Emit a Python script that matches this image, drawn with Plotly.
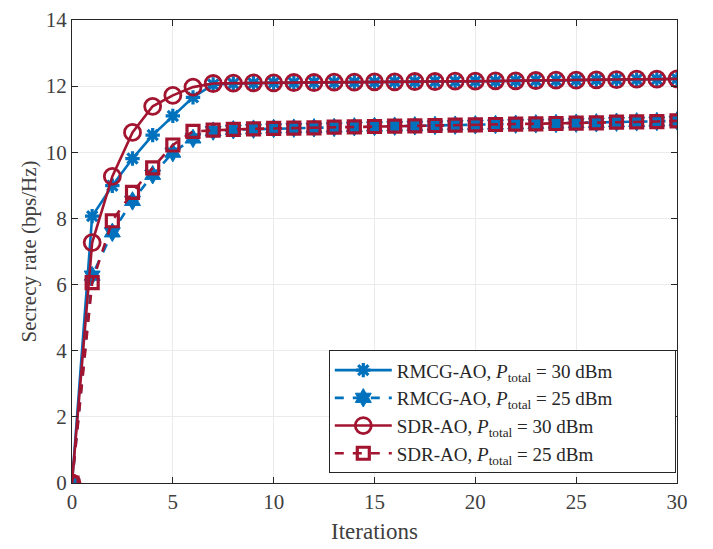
import plotly.graph_objects as go

iterations = list(range(31))

rmcg_30 = [0, 8.07, 8.99, 9.81, 10.52, 11.10, 11.66, 12.05, 12.08, 12.09, 12.10, 12.10, 12.11, 12.11, 12.12, 12.12,
           12.13, 12.13, 12.14, 12.14, 12.15, 12.15, 12.16, 12.17, 12.17, 12.18, 12.19, 12.20, 12.20, 12.21, 12.22]
rmcg_25 = [0, 6.27, 7.58, 8.53, 9.32, 9.99, 10.42, 10.64, 10.68, 10.70, 10.72, 10.73, 10.74, 10.75, 10.77, 10.78,
           10.79, 10.80, 10.81, 10.82, 10.83, 10.84, 10.85, 10.86, 10.87, 10.88, 10.89, 10.91, 10.92, 10.93, 10.95]
sdr_30 = [0, 7.27, 9.27, 10.60, 11.39, 11.72, 11.97, 12.08, 12.09, 12.10, 12.10, 12.11, 12.11, 12.12, 12.12, 12.13,
          12.13, 12.14, 12.14, 12.15, 12.15, 12.16, 12.16, 12.17, 12.18, 12.18, 12.19, 12.20, 12.21, 12.21, 12.22]
sdr_25 = [0, 6.06, 7.93, 8.79, 9.53, 10.22, 10.63, 10.67, 10.69, 10.71, 10.72, 10.73, 10.74, 10.76, 10.77, 10.78,
          10.79, 10.80, 10.81, 10.82, 10.83, 10.84, 10.85, 10.86, 10.87, 10.88, 10.89, 10.91, 10.92, 10.93, 10.95]

series_names = [
    "RMCG-AO, <i>P</i><sub>total</sub> = 30 dBm",
    "RMCG-AO, <i>P</i><sub>total</sub> = 25 dBm",
    "SDR-AO, <i>P</i><sub>total</sub> = 30 dBm",
    "SDR-AO, <i>P</i><sub>total</sub> = 25 dBm",
]

x_ticks = [0, 5, 10, 15, 20, 25, 30]
y_ticks = [0, 2, 4, 6, 8, 10, 12, 14]

blue = "#0072BD"
red = "#A2142F"
font_family = "Liberation Serif, DejaVu Serif, serif"
pad = "&nbsp;" * 12

fig = go.Figure()
fig.add_trace(go.Scatter(
    x=iterations, y=rmcg_30, mode="lines+markers",
    name=series_names[0] + pad,
    line=dict(color=blue, width=2.6, dash="solid"),
    marker=dict(symbol="asterisk-open", size=12, color=blue, line=dict(color=blue, width=3.2)),
))
fig.add_trace(go.Scatter(
    x=iterations, y=rmcg_25, mode="lines+markers",
    name=series_names[1] + pad,
    line=dict(color=blue, width=2.6, dash="dash"),
    marker=dict(symbol="hexagram", size=14, color=blue, line=dict(color=blue, width=1)),
))
fig.add_trace(go.Scatter(
    x=iterations, y=sdr_30, mode="lines+markers",
    name=series_names[2] + pad,
    line=dict(color=red, width=2.6, dash="solid"),
    marker=dict(symbol="circle-open", size=16, color=red, line=dict(color=red, width=2.8)),
))
fig.add_trace(go.Scatter(
    x=iterations, y=sdr_25, mode="lines+markers",
    name=series_names[3] + pad,
    line=dict(color=red, width=2.6, dash="dash"),
    marker=dict(symbol="square-open", size=12, color=red, line=dict(color=red, width=3.2)),
))

axis_common = dict(
    showline=True, linecolor="#262626", linewidth=1, mirror="ticks",
    ticks="inside", ticklen=6, tickcolor="#262626",
    showgrid=True, gridcolor="#EBEBEB", gridwidth=1, zeroline=False,
    tickfont=dict(family=font_family, size=21, color="#404040"),
    ticklabeloverflow="allow",
)

fig.update_xaxes(
    range=[0, 30], tickvals=x_ticks, ticktext=[str(v) for v in x_ticks],
    title=dict(text="Iterations", font=dict(family=font_family, size=23, color="#404040"), standoff=9),
    **axis_common,
)
fig.update_yaxes(
    range=[0, 14], tickvals=y_ticks, ticktext=[str(v) for v in y_ticks],
    title=dict(text="Secrecy rate (bps/Hz)", font=dict(family=font_family, size=21, color="#404040"), standoff=3),
    **axis_common,
)

fig.update_layout(
    width=713, height=549,
    margin=dict(l=72, r=36, t=8, b=66),
    plot_bgcolor="white", paper_bgcolor="white",
    font=dict(family=font_family, color="#262626"),
    legend=dict(
        x=0.998, y=0.021, xanchor="right", yanchor="bottom",
        bgcolor="white", bordercolor="#262626", borderwidth=1,
        font=dict(family=font_family, size=19, color="#262626"),
        tracegroupgap=0, itemwidth=57,
    ),
)

fig.write_html("out.html", config={"displayModeBar": False},
               post_script="document.body.style.margin='0';")
